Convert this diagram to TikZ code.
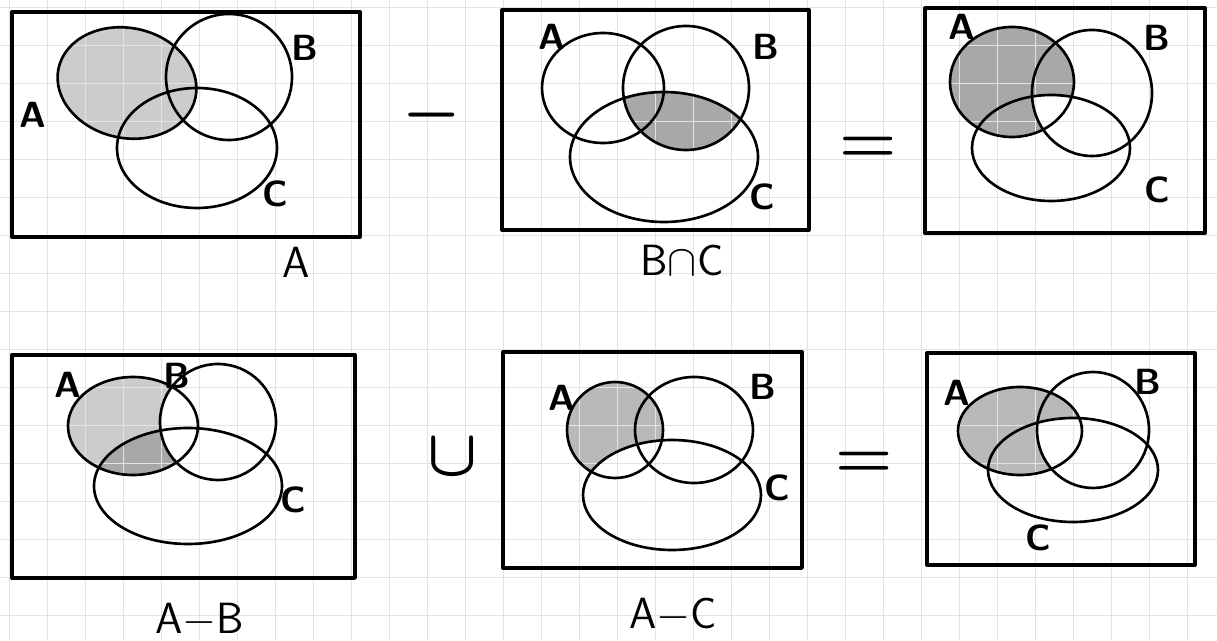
\documentclass[tikz,border=0pt]{standalone}
\usepackage{amsmath, amssymb}
\usetikzlibrary{positioning}
\tikzset{>=latex}
\tikzset{box/.style={line width=1.9pt, line join=round},
  set/.style={line width=1.5pt},
  lbl/.style={font=\huge\sffamily\bfseries, inner sep=1pt},
  captext/.style={font=\Huge\sffamily, inner sep=1pt},
  op/.style={font=\Huge\boldmath, scale=1.5, inner sep=0pt},
  lite/.style={fill=gray!40},
  dark/.style={fill=gray!68},
  grid line/.style={gray!22, line width=0.4pt}}

\begin{document}
\begin{tikzpicture}[x=0.02cm, y=-0.02cm]
  \useasboundingbox (0,0) rectangle (1217,641);

  % shading first, grid over it, outlines last
  % panel 1 : A
  \def\setA{(127,83) ellipse [x radius=70, y radius=55, rotate=-12]}
  \fill[lite] \setA;
  % panel 2 : B cap C
  \begin{scope}
    \clip (686,88) ellipse [x radius=63, y radius=62];
    \fill[dark] (664,157) ellipse [x radius=94, y radius=65];
  \end{scope}
  % panel 3 : A - (B cap C)
  \fill[dark] (1012,82) ellipse [x radius=62, y radius=55];
  \begin{scope}
    \clip (1092,93) ellipse [x radius=60, y radius=63];
    \fill[white] (1051,148) ellipse [x radius=79, y radius=53];
  \end{scope}
  % panel 4 : A - B
  \def\setA{(133,426) ellipse [x radius=65, y radius=49]}
  \fill[lite] \setA;
  \begin{scope}
    \clip \setA;
    \fill[dark] (188,486) ellipse [x radius=94, y radius=58];
  \end{scope}
  \begin{scope}
    \clip \setA;
    \fill[white] (218,422) ellipse [x radius=58, y radius=58];
  \end{scope}
  % panel 5 : A - C
  \fill[gray!55] (615,430) ellipse [x radius=48, y radius=48];
  \fill[white] (672,495) ellipse [x radius=89, y radius=55];
  % panel 6 : union
  \fill[gray!55] (1020,431) ellipse [x radius=62, y radius=44];
  \begin{scope}
    \clip (1093,430) ellipse [x radius=56, y radius=58];
    \fill[white] (1073,470) ellipse [x radius=85, y radius=52];
  \end{scope}

  \foreach \gx in {9,47,...,1217}
    \draw[grid line] (\gx,0) -- (\gx,641);
  \foreach \gy in {7,45,...,641}
    \draw[grid line] (0,\gy) -- (1217,\gy);

  % panel 1
  \draw[box] (12,12) rectangle (360,237);
  \draw[set] (127,83) ellipse [x radius=70, y radius=55, rotate=-12];
  \draw[set] (229,77) ellipse [x radius=63, y radius=63];
  \draw[set] (197,148) ellipse [x radius=80, y radius=60];
  \node[lbl] (aA) at (33,115) {A};
  \node[lbl] (aB) at (305,48) {B};
  \node[lbl] (aC) at (275,194) {C};
  \node[captext] (capA) at (296,262) {A};

  \node[op] (minus) at (432,115) {$-$};

  % panel 2
  \draw[box] (502,10) rectangle (809,230);
  \draw[set] (603,88) ellipse [x radius=61, y radius=55];
  \draw[set] (686,88) ellipse [x radius=63, y radius=62];
  \draw[set] (664,157) ellipse [x radius=94, y radius=65];
  \node[lbl] (bA) at (552,37) {A};
  \node[lbl] (bB) at (766,47) {B};
  \node[lbl] (bC) at (762,197) {C};
  \node[captext] (capBC) at (682,260) {B$\cap$C};

  \node[op] (eqTop) at (868,150) {$=$};

  % panel 3
  \draw[box] (925,8) rectangle (1205,233);
  \draw[set] (1012,82) ellipse [x radius=62, y radius=55];
  \draw[set] (1092,93) ellipse [x radius=60, y radius=63];
  \draw[set] (1051,148) ellipse [x radius=79, y radius=53];
  \node[lbl] (cA) at (962,27) {A};
  \node[lbl] (cB) at (1157,38) {B};
  \node[lbl] (cC) at (1157,190) {C};

  % panel 4
  \draw[box] (12,355) rectangle (355,578);
  \draw[set] (133,426) ellipse [x radius=65, y radius=49];
  \draw[set] (218,422) ellipse [x radius=58, y radius=58];
  \draw[set] (188,486) ellipse [x radius=94, y radius=58];
  \node[lbl] (dA) at (68,385) {A};
  \node[lbl] (dB) at (177,376) {B};
  \node[lbl] (dC) at (293,500) {C};
  \node[captext] (capAB) at (200,620) {A$-$B};

  \node[op] (cup) at (453,457) {$\cup$};

  % panel 5
  \draw[box] (503,352) rectangle (802,568);
  \draw[set] (615,430) ellipse [x radius=48, y radius=48];
  \draw[set] (694,430) ellipse [x radius=59, y radius=53];
  \draw[set] (672,495) ellipse [x radius=89, y radius=55];
  \node[lbl] (eA) at (562,398) {A};
  \node[lbl] (eB) at (763,387) {B};
  \node[lbl] (eC) at (777,488) {C};
  \node[captext] (capAC) at (673,615) {A$-$C};

  \node[op] (eqBot) at (864,465) {$=$};

  % panel 6
  \draw[box] (927,353) rectangle (1195,565);
  \draw[set] (1020,431) ellipse [x radius=62, y radius=44];
  \draw[set] (1093,430) ellipse [x radius=56, y radius=58];
  \draw[set] (1073,470) ellipse [x radius=85, y radius=52];
  \node[lbl] (fA) at (957,393) {A};
  \node[lbl] (fB) at (1148,382) {B};
  \node[lbl] (fC) at (1038,538) {C};
\end{tikzpicture}
\end{document}
